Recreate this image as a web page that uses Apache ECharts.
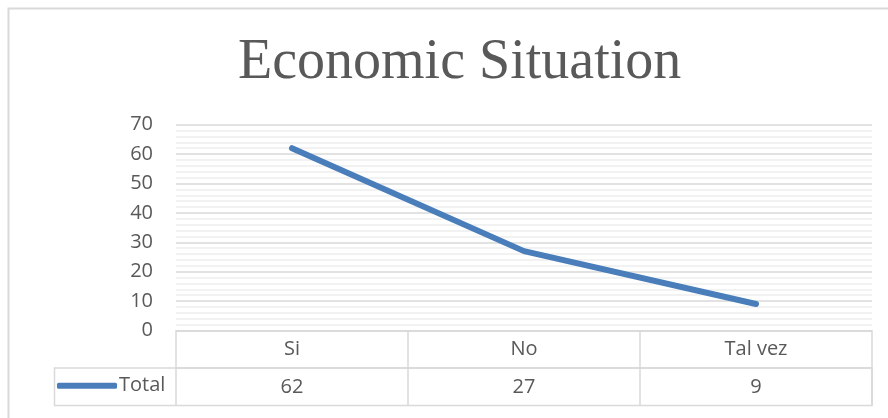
<!DOCTYPE html>
<html>
<head>
<meta charset="utf-8">
<script src="https://cdn.jsdelivr.net/npm/echarts@6/dist/echarts.min.js"></script>
<style>
  html, body { margin: 0; padding: 0; background: #ffffff; }
  #chart { width: 888px; height: 418px; }
</style>
</head>
<body>
<div id="chart"></div>
<script>
// Survey answers and their totals
const categories = ['Si', 'No', 'Tal vez'];
const totals = [62, 27, 9];
const seriesName = 'Total';
const titleText = 'Economic Situation';

// Layout of the plot and the data table underneath it
const plotLeft = 176, plotRight = 16, plotTop = 124.7, plotBottom = 87.5;
const rowHeight = 37.5;
const textColor = '#595959';
const borderColor = '#d9d9d9';
const lineColor = '#4a7ebb';
const uiFont = '"Open Sans", "Noto Sans", sans-serif';
const labelSize = 20;

const chart = echarts.init(document.getElementById('chart'), null, { renderer: 'canvas' });

const tableTop = 418 - plotBottom;             // y of the header row's top line
const valueRowTop = tableTop + rowHeight;
const tableRight = 888 - plotRight;

chart.setOption({
  animation: false,
  backgroundColor: '#ffffff',
  title: {
    text: titleText,
    left: 233,
    top: 30,
    textStyle: {
      fontFamily: '"Liberation Serif", "DejaVu Serif", serif',
      fontWeight: 'normal',
      fontSize: 56,
      color: textColor
    }
  },
  legend: {
    data: [seriesName],
    left: 57,
    top: valueRowTop + rowHeight / 2 - 11,
    icon: 'roundRect',
    itemWidth: 60,
    itemHeight: 6,
    itemGap: 0,
    padding: 0,
    textStyle: { fontFamily: uiFont, fontSize: labelSize, color: textColor, padding: [0, 0, 0, -3] }
  },
  grid: {
    left: plotLeft, right: plotRight, top: plotTop, bottom: plotBottom,
    containLabel: false
  },
  xAxis: [
    {
      // header row: category names
      type: 'category',
      data: categories,
      boundaryGap: true,
      position: 'bottom',
      axisLine: { show: true, lineStyle: { color: borderColor, width: 1.5 } },
      axisTick: { show: true, length: rowHeight, lineStyle: { color: borderColor, width: 1.5 } },
      axisLabel: { fontFamily: uiFont, fontSize: labelSize, color: textColor, margin: 9 },
      splitLine: { show: false }
    },
    {
      // value row: series totals
      type: 'category',
      data: categories,
      boundaryGap: true,
      position: 'bottom',
      offset: rowHeight,
      axisLine: { show: true, lineStyle: { color: borderColor, width: 1.5 } },
      axisTick: { show: true, length: rowHeight, lineStyle: { color: borderColor, width: 1.5 } },
      axisLabel: {
        fontFamily: uiFont, fontSize: labelSize, color: textColor, margin: 9,
        formatter: function (value, index) { return String(totals[index]); }
      },
      splitLine: { show: false }
    }
  ],
  yAxis: {
    type: 'value',
    min: 0,
    max: 70,
    interval: 10,
    axisLine: { show: false },
    axisTick: { show: false },
    axisLabel: { fontFamily: uiFont, fontSize: labelSize, color: textColor, margin: 23 },
    splitLine: { show: true, lineStyle: { color: borderColor, width: 1.5 } },
    minorTick: { show: false, splitNumber: 5 },
    minorSplitLine: { show: true, lineStyle: { color: '#eeeeee', width: 1.5 } }
  },
  series: [
    {
      name: seriesName,
      type: 'line',
      xAxisIndex: 0,
      data: totals,
      symbol: 'none',
      smooth: false,
      color: lineColor,
      lineStyle: { color: lineColor, width: 6, cap: 'round', join: 'round' },
      z: 5
    }
  ],
  graphic: [
    {
      // outer chart frame
      type: 'rect',
      silent: true,
      shape: { x: 8.5, y: 8.5, width: 900, height: 500 },
      style: { fill: null, stroke: borderColor, lineWidth: 2 }
    },
    {
      // value row frame including the legend cell
      type: 'rect',
      silent: true,
      z: -1,
      shape: { x: 54.5, y: valueRowTop, width: tableRight - 54.5, height: rowHeight },
      style: { fill: null, stroke: borderColor, lineWidth: 1.5 }
    }
  ]
});
</script>
</body>
</html>
